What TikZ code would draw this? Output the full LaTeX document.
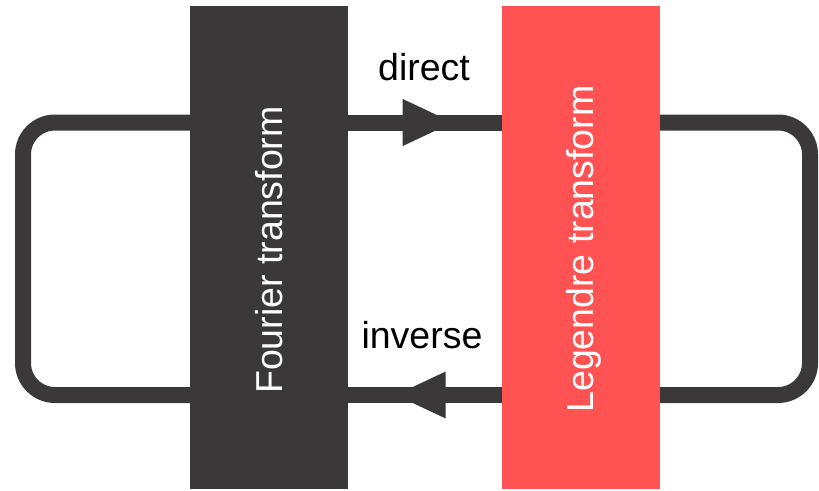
\documentclass[tikz,border=0pt]{standalone}
\usepackage{fontspec}
\setmainfont{Liberation Sans}
\usetikzlibrary{decorations.markings,calc}
\definecolor{barDark}{RGB}{58,56,57}
\definecolor{barRed}{RGB}{255,82,82}
\begin{document}
\begin{tikzpicture}[x=1pt,y=-1pt,
  bar/.style={draw=none,minimum width=158pt,minimum height=483pt,inner sep=0pt,outer sep=0pt},
  wire/.style={draw=barDark,line width=16pt,line cap=butt},
  returnloop/.style={wire,rounded corners=32pt},
  txt/.style={font=\fontsize{37.5}{45}\selectfont,inner sep=0pt},
  flowtip/.style={postaction={decorate},
    decoration={markings,mark=at position #1 with
      {\fill[barDark] (-50pt,23.5pt) -- (0pt,0pt) -- (-50pt,-23.5pt) -- cycle;}}}]
  \useasboundingbox (0,0) rectangle (819,490);

  % the two transform bars
  \node[bar,fill=barDark] (fourier) at (269,247.5) {};
  \node[bar,fill=barRed] (legendre) at (581,247.5) {};

  % levels of the two loop lines and the outer corners
  \coordinate (topy) at (0,122.5);
  \coordinate (boty) at (0,395);
  \coordinate (lt) at (23,122.5);
  \coordinate (lb) at (23,395);
  \coordinate (rt) at (810,122.5);
  \coordinate (rb) at (810,395);

  % direct and inverse connectors between the bars
  \draw[wire,flowtip=0.68] (fourier.east |- topy) -- (legendre.west |- topy);
  \draw[wire,flowtip=0.69] (legendre.west |- boty) -- (fourier.east |- boty);

  % outer return loops
  \draw[returnloop] (fourier.west |- topy) -- (lt) -- (lb) -- (fourier.west |- boty);
  \draw[returnloop] (legendre.east |- topy) -- (rt) -- (rb) -- (legendre.east |- boty);

  % texts
  \node[txt,text=white,rotate=90,anchor=base] (ftext) at (282,250) {Fourier transform};
  \node[txt,text=white,rotate=90,anchor=base] (ltext) at (593,249) {Legendre transform};
  \node[txt,text=black,anchor=base] (dlabel) at (424,80) {direct};
  \node[txt,text=black,anchor=base] (ilabel) at (422,348) {inverse};
\end{tikzpicture}
\end{document}
